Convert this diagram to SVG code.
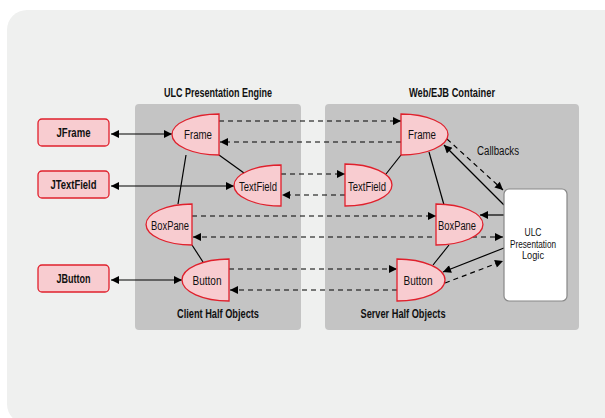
<svg xmlns="http://www.w3.org/2000/svg" width="605" height="418" viewBox="0 0 605 418">
<defs>
<marker id="ah" viewBox="0 0 10 10" refX="10" refY="5" markerWidth="9" markerHeight="8" markerUnits="userSpaceOnUse" orient="auto-start-reverse">
<path d="M0,0 L10,5 L0,10 Z" fill="#000"/>
</marker>
<style>
.bg{fill:#eff0ef}
.panel{fill:#c4c4c4}
.ho{fill:#f8ccd0;stroke:#e0202c;stroke-width:1.3}
.ext{fill:#f8ccd0;stroke:#e0202c;stroke-width:1.3}
.logic{fill:#fff;stroke:#888;stroke-width:1.2}
.ln{stroke:#000;stroke-width:1.2;fill:none}
.ds{stroke:#000;stroke-width:1.2;fill:none;stroke-dasharray:5 4}
.ar{marker-end:url(#ah)}
.ar2{marker-start:url(#ah);marker-end:url(#ah)}
text{font-family:"Liberation Sans",Arial,sans-serif;fill:#111;text-anchor:middle}
.t{font-size:12.5px}
.s{font-size:11.5px}
.b{font-size:12px;font-weight:bold}
</style>
</defs>
<rect class="bg" x="7" y="10" width="620" height="414" rx="20"/>
<g id="panel-client">
<rect class="panel" x="135" y="104" width="166" height="226" rx="4"/>
<text class="b" x="218" y="97" textLength="108" lengthAdjust="spacingAndGlyphs">ULC Presentation Engine</text>
<text class="b" x="218" y="318" textLength="82" lengthAdjust="spacingAndGlyphs">Client Half Objects</text>
</g>
<g id="panel-server">
<rect class="panel" x="325" y="104" width="254" height="226" rx="4"/>
<text class="b" x="452" y="97" textLength="86" lengthAdjust="spacingAndGlyphs">Web/EJB Container</text>
<text class="b" x="403" y="318" textLength="85" lengthAdjust="spacingAndGlyphs">Server Half Objects</text>
</g>
<g id="connectors">
<line class="ln ar2" x1="111" y1="134" x2="172" y2="134"/>
<line class="ln ar2" x1="111" y1="186" x2="234" y2="186"/>
<line class="ln ar2" x1="111" y1="280" x2="182" y2="280"/>
<line class="ln" x1="186" y1="155" x2="178" y2="204"/>
<line class="ln" x1="219" y1="155" x2="244" y2="173"/>
<line class="ln" x1="192" y1="245" x2="203" y2="262"/>
<line class="ln" x1="401" y1="155" x2="386" y2="174"/>
<line class="ln" x1="429" y1="152" x2="444" y2="205"/>
<line class="ln" x1="449" y1="245" x2="433" y2="265"/>
<line class="ds ar" x1="219" y1="121" x2="401" y2="121"/>
<line class="ds ar" x1="401" y1="142" x2="220" y2="142"/>
<line class="ds ar" x1="281" y1="174" x2="345" y2="174"/>
<line class="ds ar" x1="345" y1="195" x2="282" y2="195"/>
<line class="ds ar" x1="192" y1="216" x2="436" y2="216"/>
<line class="ds ar2" x1="193" y1="237" x2="503" y2="237"/>
<line class="ds ar" x1="229" y1="269" x2="397" y2="269"/>
<line class="ds ar" x1="397" y1="290" x2="230" y2="290"/>
<line class="ds ar" x1="447" y1="139" x2="503" y2="190"/>
<line class="ds ar" x1="445" y1="283" x2="503" y2="261"/>
<line class="ln ar" x1="504" y1="205" x2="444" y2="145"/>
<line class="ln ar" x1="504" y1="215" x2="480" y2="215"/>
<line class="ln ar" x1="504" y1="248" x2="443" y2="272"/>
<text class="t" x="498" y="155" textLength="42" lengthAdjust="spacingAndGlyphs">Callbacks</text>
</g>
<g id="jframe"><rect class="ext" x="38" y="119" width="71" height="27" rx="4"/><text class="b" x="73.5" y="137" textLength="34" lengthAdjust="spacingAndGlyphs">JFrame</text></g>
<g id="jtextfield"><rect class="ext" x="38" y="171" width="71" height="27" rx="4"/><text class="b" x="73.5" y="189" textLength="46" lengthAdjust="spacingAndGlyphs">JTextField</text></g>
<g id="jbutton"><rect class="ext" x="38" y="265" width="71" height="27" rx="4"/><text class="b" x="73.5" y="283" textLength="34" lengthAdjust="spacingAndGlyphs">JButton</text></g>
<g id="client-frame"><path class="ho" d="M219,114 A47,20.5 0 0 0 219,155 Z"/><text class="t" x="198" y="138.5" textLength="28" lengthAdjust="spacingAndGlyphs">Frame</text></g>
<g id="client-textfield"><path class="ho" d="M281,165 A47,20.5 0 0 0 281,206 Z"/><text class="t" x="258" y="190.5" textLength="38" lengthAdjust="spacingAndGlyphs">TextField</text></g>
<g id="client-boxpane"><path class="ho" d="M192,204 A46,20.5 0 0 0 192,245 Z"/><text class="t" x="170" y="229.5" textLength="38" lengthAdjust="spacingAndGlyphs">BoxPane</text></g>
<g id="client-button"><path class="ho" d="M229,259 A47,21 0 0 0 229,301 Z"/><text class="t" x="207" y="284.5" textLength="29" lengthAdjust="spacingAndGlyphs">Button</text></g>
<g id="server-frame"><path class="ho" d="M401,114 A47,20.5 0 0 1 401,155 Z"/><text class="t" x="422" y="138.5" textLength="28" lengthAdjust="spacingAndGlyphs">Frame</text></g>
<g id="server-textfield"><path class="ho" d="M345,164 A47,21 0 0 1 345,206 Z"/><text class="t" x="367" y="190.5" textLength="38" lengthAdjust="spacingAndGlyphs">TextField</text></g>
<g id="server-boxpane"><path class="ho" d="M436,204 A47,20.5 0 0 1 436,245 Z"/><text class="t" x="457" y="229.5" textLength="38" lengthAdjust="spacingAndGlyphs">BoxPane</text></g>
<g id="server-button"><path class="ho" d="M397,259 A48,21 0 0 1 397,301 Z"/><text class="t" x="418" y="284.5" textLength="29" lengthAdjust="spacingAndGlyphs">Button</text></g>
<g id="ulc-logic"><rect class="logic" x="504" y="189" width="63" height="112" rx="5"/>
<text class="s" x="533" y="236" textLength="17" lengthAdjust="spacingAndGlyphs">ULC</text><text class="s" x="533" y="247.5" textLength="46" lengthAdjust="spacingAndGlyphs">Presentation</text><text class="s" x="533" y="259" textLength="22" lengthAdjust="spacingAndGlyphs">Logic</text></g>
</svg>
